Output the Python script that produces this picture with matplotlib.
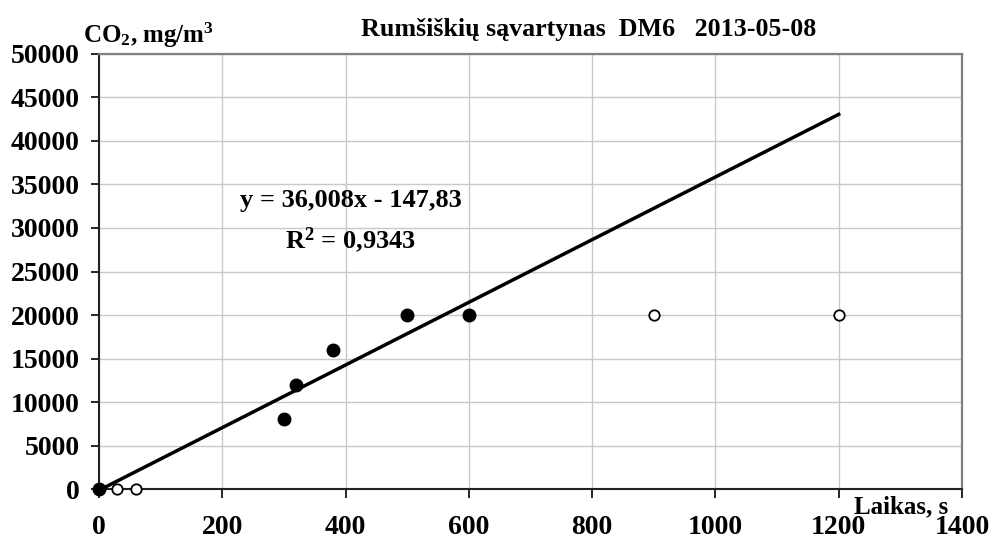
import numpy as np
import matplotlib.pyplot as plt

plt.rcParams['font.family'] = ['Liberation Serif', 'DejaVu Serif']
plt.rcParams['font.weight'] = 'bold'
plt.rcParams['mathtext.default'] = 'regular'

# measured points (filled = used in the trend)
x_fit = [0, 300, 320, 380, 500, 600]
y_fit = [0, 8000, 12000, 16000, 20000, 20000]
# points left out of the trend
x_out = [30, 60, 900, 1200]
y_out = [0, 0, 20000, 20000]

# trend line from the equation shown on the chart
slope = 36.008
intercept = -147.83
r2 = 0.9343
trend_x = np.array([0, 1200])

fig = plt.figure(figsize=(9.91, 5.41), dpi=100)
ax = fig.add_axes([0.0999, 0.0961, 0.8708, 0.8041])

ax.plot(trend_x, slope * trend_x + intercept, color='black', lw=2.5, zorder=3)
ax.plot(x_fit, y_fit, 'o', color='black', markersize=9, zorder=4, clip_on=False)
ax.plot(x_out, y_out, 'o', mfc='white', mec='black', mew=1.3, markersize=7.5,
        zorder=4, clip_on=False)

ax.set_xlim(0, 1400)
ax.set_ylim(0, 50000)
ax.set_xticks(np.arange(0, 1401, 200))
ax.set_yticks(np.arange(0, 50001, 5000))
ax.grid(True, color='#c8c8c8', lw=1)
ax.set_axisbelow(True)

for s in ['left', 'bottom']:
    ax.spines[s].set_color('#222222')
    ax.spines[s].set_linewidth(1.5)
for s in ['right', 'top']:
    ax.spines[s].set_color('#808080')
    ax.spines[s].set_linewidth(1.6)

ax.tick_params(axis='x', direction='out', length=6.5, width=1.2, pad=12, labelsize=20)
ax.tick_params(axis='y', direction='out', length=5.8, width=1.2, pad=8, labelsize=20)

fig.text(0.084, 0.935, r'CO$_2$, mg/m$^3$', fontsize=18, fontweight='bold',
         ha='left', va='center')
fig.text(0.594, 0.945, 'Rumšiškių sąvartynas  DM6   2013-05-08', fontsize=18.7,
         fontweight='bold', ha='center', va='center')
fig.text(0.957, 0.064, 'Laikas, s', fontsize=18, fontweight='bold',
         ha='right', va='center')

eq = 'y = %sx - %s' % (str(slope).replace('.', ','), str(-intercept).replace('.', ','))
ax.text(408, 33200, eq, fontsize=19, fontweight='bold', ha='center', va='center')
ax.text(408, 28600, r'R$^2$ = ' + str(r2).replace('.', ','), fontsize=19,
        fontweight='bold', ha='center', va='center')

plt.savefig('out.png', dpi=100)
